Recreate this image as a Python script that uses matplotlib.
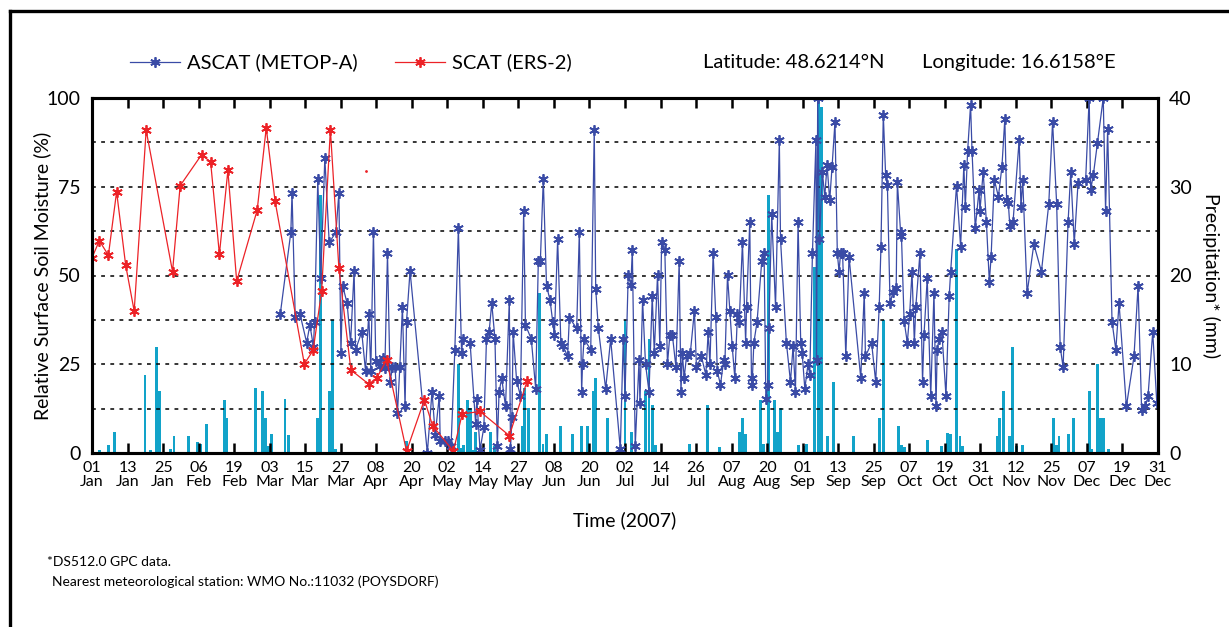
import matplotlib.pyplot as plt
import numpy as np
from matplotlib.lines import Line2D

plt.rcParams['font.family'] = ['Lato', 'DejaVu Sans']

# ---- data (day of year 2007) ----
ascat_day = [65.3, 68.9, 69.3, 70.4, 72.0, 74.3, 75.4, 76.6, 77.0, 78.1, 79.1, 80.5, 82.0, 84.3,
             85.3, 86.0, 86.6, 88.1, 89.3, 90.5, 91.0, 93.1, 94.4, 95.5, 96.2, 97.1, 97.9, 99.3,
             100.2, 101.0, 101.9, 102.8, 103.6, 104.5, 105.3, 106.1, 107.0, 107.9, 108.4, 109.6,
             115.5, 117.1, 118.2, 119.6, 119.9, 121.5, 122.7, 123.6, 124.9, 126.1, 127.2, 127.6,
             130.1, 132.0, 132.4, 133.5, 134.8, 135.7, 136.6, 137.5, 138.6, 139.4, 140.0, 140.9,
             142.2, 143.5, 143.9, 144.4, 144.8, 146.0, 147.3, 148.4, 149.0, 151.0, 152.5, 153.4,
             154.1, 155.1, 156.2, 157.4, 158.3, 158.9, 160.0, 161.1, 161.9, 163.4, 164.0, 166.5,
             167.4, 168.2, 168.5, 169.0, 171.3, 172.5, 173.0, 173.9, 176.4, 178.1, 181.4, 182.4,
             183.0, 184.1, 185.0, 185.5, 186.5, 187.8, 188.1, 189.0, 190.0, 191.2, 192.3, 193.0,
             194.1, 194.9, 195.5, 196.6, 197.5, 198.3, 199.2, 200.4, 201.5, 202.1, 202.6, 203.2,
             204.0, 205.3, 206.7, 207.4, 209.1, 210.6, 211.4, 212.0, 213.1, 214.0, 214.5, 215.6,
             216.7, 217.1, 218.0, 218.8, 219.6, 220.5, 221.4, 222.0, 223.1, 224.2, 224.5, 225.6,
             226.2, 226.5, 227.0, 228.1, 229.7, 230.5, 231.1, 231.7, 232.1, 233.1, 234.4, 235.7,
             236.1, 238.1, 239.5, 240.4, 241.2, 242.1, 243.0, 243.5, 244.4, 245.5, 246.1, 247.0,
             248.2, 248.4, 248.8, 249.4, 250.4, 251.2, 252.0, 252.9, 253.7, 254.7, 255.5, 256.1,
             256.6, 257.3, 258.4, 259.5, 263.5, 264.7, 265.1, 267.2, 268.6, 269.8, 270.4, 271.2,
             272.0, 272.6, 273.5, 274.5, 275.6, 276.0, 277.1, 277.4, 278.3, 279.4, 280.2, 281.0,
             281.8, 282.3, 283.7, 284.6, 285.1, 286.2, 287.4, 288.5, 289.2, 289.6, 290.2, 291.2,
             292.6, 293.7, 294.2, 296.2, 297.6, 298.7, 299.2, 300.0, 301.0, 301.5, 302.6, 303.9,
             304.2, 305.3, 306.4, 307.4, 308.0, 309.1, 310.5, 311.7, 312.7, 313.3, 313.9, 314.4,
             315.5, 317.6, 318.2, 318.8, 320.3, 322.6, 325.2, 327.7, 329.0, 330.4, 331.6, 332.6,
             334.3, 335.2, 336.4, 337.7, 340.3, 341.5, 342.0, 342.9, 344.3, 346.3, 347.1, 347.8,
             349.3, 350.6, 351.7, 354.2, 356.8, 358.2, 359.4, 360.7, 361.6, 363.2, 364.6]
ascat_sm = [39.2, 62.2, 73.3, 38.2, 39.2, 31.1, 36.1, 30.0, 37.0, 77.1, 49.2, 83.1, 59.3, 62.2,
            73.3, 28.1, 47.1, 42.2, 31.1, 51.3, 29.1, 34.1, 23.1, 39.1, 23.1, 62.2, 26.0, 24.4,
            26.9, 24.0, 56.2, 20.1, 24.1, 24.1, 11.2, 24.1, 41.2, 13.1, 37.0, 51.3,
            0.0, 17.3, 5.2, 16.1, 3.3, 3.3, 3.3, 1.9, 29.1, 63.3, 28.1, 32.1,
            31.1, 8.2, 15.2, 0.9, 7.2, 32.1, 34.1, 42.2, 32.1, 2.1, 17.2, 21.1,
            13.1, 43.1, 1.1, 10.1, 34.1, 20.3, 16.1, 68.1, 36.1, 32.1, 18.1, 54.1,
            54.1, 77.1, 47.1, 43.1, 37.0, 33.1, 60.2, 31.1, 30.1, 27.2, 38.1, 35.1,
            62.2, 17.2, 25.1, 32.1, 29.1, 91.1, 46.2, 35.1, 18.1, 32.1, 1.1, 32.1,
            16.1, 50.1, 47.3, 57.2, 2.1, 26.1, 14.1, 43.1, 25.1, 17.2, 44.2, 28.1,
            50.1, 30.1, 59.3, 57.2, 25.0, 33.1, 33.1, 24.1, 54.1, 17.2, 28.1, 21.1,
            27.2, 28.1, 40.1, 24.1, 27.2, 22.0, 34.1, 25.1, 56.2, 38.2, 23.1, 19.2,
            26.1, 25.1, 50.1, 40.1, 30.1, 21.1, 39.1, 37.0, 59.3, 31.1, 41.2, 65.1,
            19.2, 21.1, 31.1, 37.0, 54.1, 56.2, 15.2, 19.2, 35.1, 67.2, 41.2, 88.1,
            60.2, 31.1, 20.1, 30.1, 17.2, 65.1, 31.1, 28.1, 18.1, 25.1, 22.0, 56.2,
            88.1, 26.1, 100.0, 60.2, 79.2, 72.2, 81.1, 71.2, 80.6, 93.3, 56.2, 51.1,
            56.2, 56.2, 27.2, 55.3, 21.1, 45.2, 27.2, 31.1, 20.1, 41.2, 58.1, 95.3,
            78.2, 75.4, 42.2, 45.3, 46.4, 76.3, 62.2, 61.2, 37.2, 31.1, 39.1, 51.1,
            31.1, 41.2, 56.2, 20.1, 33.3, 49.2, 16.1, 45.2, 13.1, 29.1, 32.1, 34.1,
            16.1, 44.2, 51.1, 75.3, 58.1, 81.1, 69.2, 85.1, 98.1, 85.1, 63.3, 74.1,
            68.2, 79.2, 65.1, 48.3, 55.1, 77.0, 72.2, 80.6, 94.2, 71.2, 70.3, 64.0,
            65.1, 88.3, 69.2, 77.0, 45.0, 58.8, 51.1, 70.1, 93.3, 70.1, 30.0, 24.1,
            65.1, 79.2, 59.0, 76.1, 77.0, 100.0, 74.2, 78.2, 87.2, 100.0, 68.2, 91.4,
            37.0, 29.1, 42.2, 13.1, 27.2, 47.1, 12.2, 13.1, 16.1, 34.1, 14.1]

scat_day = [1.0, 3.5, 6.6, 9.4, 12.5, 15.4, 19.5, 28.5, 31.1, 38.4, 41.5, 44.5, 47.4, 50.4,
            57.4, 60.5, 63.5, 73.5, 76.5, 79.4, 82.4, 85.3, 89.4, 95.5, 98.2, 101.6, 108.4,
            114.5, 117.3, 124.4, 127.4, 133.5, 143.5, 149.6]
scat_sm = [55.0, 59.8, 55.7, 73.6, 52.9, 40.0, 90.9, 51.1, 75.3, 84.0, 82.0, 56.0, 79.6, 48.4,
           68.4, 91.6, 71.0, 25.1, 28.9, 45.5, 91.1, 52.1, 23.4, 19.4, 21.1, 26.2, 0.5,
           15.0, 7.7, 0.5, 11.0, 11.7, 4.9, 20.3]
scat_stray_day = [94.5]
scat_stray_sm = [79.4]

rain_day = [1.0, 3.7, 6.7, 8.7, 19.1, 21.0, 22.9, 23.9, 27.8, 29.0, 34.0, 36.9, 38.1, 40.0,
            46.1, 47.1, 56.9, 59.1, 60.2, 61.2, 62.2, 66.9, 68.1, 78.0, 79.1, 82.0, 83.0, 84.0,
            108.4, 126.1, 127.0, 127.8, 129.3, 130.1, 131.0, 132.0, 137.2, 138.3, 143.7, 147.9,
            148.8, 150.2, 153.9, 155.0, 156.2, 161.1, 165.1, 168.2, 170.2, 172.1, 173.0, 177.1,
            183.0, 185.3, 190.0, 191.2, 192.3, 193.3, 205.1, 211.1, 215.4, 222.2, 223.1, 224.2,
            229.3, 230.3, 232.1, 234.0, 235.1, 236.0, 242.1, 244.3, 245.0, 247.8, 249.1, 250.1,
            252.1, 254.1, 261.1, 270.0, 271.2, 276.4, 277.5, 278.3, 286.3, 291.1, 293.2, 294.3,
            296.2, 297.4, 298.4, 310.1, 311.0, 312.2, 314.2, 315.3, 316.8, 318.8, 329.2, 330.2,
            331.2, 334.3, 336.0, 341.5, 342.4, 344.3, 345.5, 346.3, 348.2, 365.0]
rain_mm = [4.5, 0.3, 0.9, 2.4, 8.8, 0.3, 12.0, 7.0, 0.4, 1.9, 1.9, 1.2, 1.0, 3.3,
           6.0, 4.0, 7.3, 7.0, 4.0, 0.8, 2.1, 6.1, 2.0, 4.0, 29.1, 7.0, 15.0, 0.5,
           1.3, 10.0, 0.6, 0.9, 6.0, 5.1, 0.3, 2.4, 2.4, 0.8, 0.4, 3.0,
           7.3, 5.1, 18.0, 1.0, 2.1, 3.0, 2.1, 3.0, 3.0, 7.0, 8.4, 4.0,
           15.0, 2.4, 7.0, 12.9, 5.4, 0.9, 1.0, 5.4, 0.7, 2.4, 4.0, 2.1,
           6.0, 1.0, 29.1, 6.0, 2.4, 5.1, 0.9, 0.8, 1.0, 21.0, 40.0, 39.0,
           1.9, 8.0, 1.9, 4.0, 15.0, 3.0, 0.9, 0.7, 1.5, 0.8, 2.2, 2.1,
           23.0, 1.9, 0.8, 1.9, 4.0, 7.0, 1.9, 12.0, 0.8, 0.9, 4.0, 0.9,
           1.9, 2.1, 4.0, 7.0, 0.4, 10.0, 4.0, 4.0, 0.5, 0.6]

tick_labels = ['01\nJan', '13\nJan', '25\nJan', '06\nFeb', '19\nFeb', '03\nMar', '15\nMar',
               '27\nMar', '08\nApr', '20\nApr', '02\nMay', '14\nMay', '27\nMay', '08\nJun',
               '20\nJun', '02\nJul', '14\nJul', '26\nJul', '07\nAug', '20\nAug', '01\nSep',
               '13\nSep', '25\nSep', '07\nOct', '19\nOct', '31\nOct', '12\nNov', '25\nNov',
               '07\nDec', '19\nDec', '31\nDec']

BLUE = '#3a4ba6'
RED = '#ec2227'
CYAN = '#12a3c9'
ast = (6, 2, 0)

W, H = 1229, 627
fig = plt.figure(figsize=(W / 100, H / 100), dpi=100)
ax = fig.add_axes([92 / W, 1 - 453 / H, (1158 - 92) / W, (453 - 98) / H])
ax2 = ax.twinx()

# precipitation bars (right axis) behind the soil moisture lines
ax2.bar(rain_day, rain_mm, width=1.0, color=CYAN, linewidth=0)
ax2.set_ylim(0, 40)
ax2.set_yticks([0, 10, 20, 30, 40])
ax2.tick_params(axis='y', length=0, labelsize=14, pad=8)
ax2.set_ylabel('Precipitation* (mm)', rotation=-90, fontsize=14, labelpad=20)

ax.set_zorder(ax2.get_zorder() + 1)
ax.patch.set_visible(False)

ax.plot(ascat_day, ascat_sm, color=BLUE, lw=0.9, marker=ast, ms=7.5, mew=1.3, mec=BLUE)
ax.plot(scat_day, scat_sm, color=RED, lw=0.9, marker=ast, ms=7.5, mew=1.3, mec=RED)
ax.plot(scat_stray_day, scat_stray_sm, ls='none', marker='.', ms=2, color=RED)

ax.set_xlim(1, 365)
ax.set_ylim(0, 100)
ax.set_xticks(np.linspace(1, 365, 31))
ax.set_xticklabels(tick_labels, fontsize=11.5, linespacing=1.0)
ax.set_yticks([0, 25, 50, 75, 100])
ax.set_yticks(np.arange(12.5, 100, 25), minor=True)
ax.tick_params(axis='x', direction='in', top=True, length=7, width=1.8, pad=6)
ax.tick_params(axis='y', which='both', length=0, labelsize=14, pad=8)
ax.grid(axis='y', which='both', color='black', linestyle=(0, (2.5, 3.5)), linewidth=1.1)
ax.set_ylabel('Relative Surface Soil Moisture (%)', fontsize=14, labelpad=-3)
ax.set_xlabel('Time (2007)', fontsize=14, labelpad=16)
for sp in list(ax.spines.values()) + list(ax2.spines.values()):
    sp.set_linewidth(2.2)

# legend and location text on top
def legend_entry(x0, label, color):
    y = 1 - 62 / H
    fig.add_artist(Line2D([x0 / W, (x0 + 50) / W], [y, y], color=color, lw=0.9,
                          transform=fig.transFigure))
    fig.add_artist(Line2D([(x0 + 25) / W], [y], color=color, marker=ast, ms=7.5, mew=1.3,
                          transform=fig.transFigure))
    fig.text((x0 + 57) / W, y, label, fontsize=14.5, va='center', ha='left')

legend_entry(130, 'ASCAT (METOP-A)', BLUE)
legend_entry(395, 'SCAT (ERS-2)', RED)
fig.text(703 / W, 1 - 62 / H, 'Latitude: 48.6214°N', fontsize=14.5, va='center')
fig.text(922 / W, 1 - 62 / H, 'Longitude: 16.6158°E', fontsize=14.5, va='center')

fig.text(47 / W, 1 - 562 / H, '*DS512.0 GPC data.', fontsize=10, va='center')
fig.text(52 / W, 1 - 582 / H, 'Nearest meteorological station: WMO No.:11032 (POYSDORF)',
         fontsize=10, va='center')

# outer frame (clipped at right and bottom)
fig.add_artist(Line2D([10 / W, 1.0], [1 - 11 / H, 1 - 11 / H], color='black', lw=2.4,
                      transform=fig.transFigure))
fig.add_artist(Line2D([10 / W, 10 / W], [1 - 11 / H, 0], color='black', lw=2.4,
                      transform=fig.transFigure))

fig.savefig('out.png', dpi=100)
